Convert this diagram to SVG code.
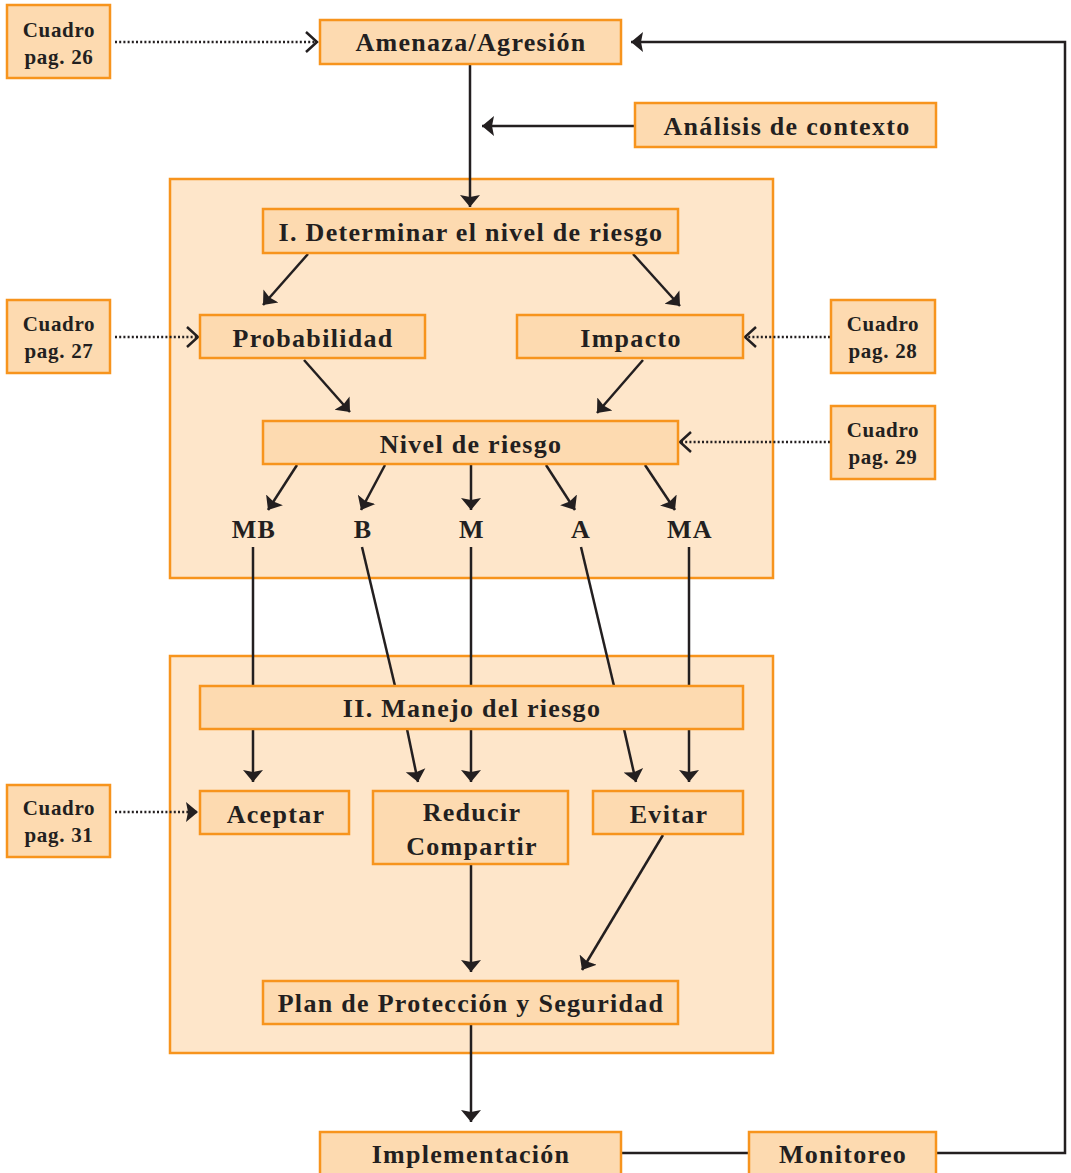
<svg xmlns="http://www.w3.org/2000/svg" width="1071" height="1173" viewBox="0 0 1071 1173">
<style>
.panel{fill:#FEE6CA;stroke:#F7941D;stroke-width:2.5}
.box{fill:#FDDAB0;stroke:#F7941D;stroke-width:2.5}
.t{font-family:"Liberation Serif","Times New Roman",serif;font-weight:bold;font-size:26px;letter-spacing:1.3px;fill:#231F20;text-anchor:middle}
.s{font-size:21px;letter-spacing:0.7px}
.ln{fill:none;stroke:#231F20;stroke-width:2.5}
.dot{fill:none;stroke:#231F20;stroke-width:2.5;stroke-dasharray:2 2.2}
</style>
<defs>
<marker id="ah" markerUnits="userSpaceOnUse" markerWidth="14" markerHeight="22" viewBox="0 0 14 22" refX="12" refY="11" orient="auto">
<path d="M0,1 L12,11 L0,21 L2,11 Z" fill="#231F20"/>
</marker>
<marker id="oh" markerUnits="userSpaceOnUse" markerWidth="16" markerHeight="24" viewBox="0 0 16 24" refX="13" refY="12" orient="auto">
<path d="M2,2 L13,12 L2,22" fill="none" stroke="#231F20" stroke-width="2.5"/>
</marker>
</defs>
<rect class="panel" x="170" y="179" width="603" height="399"/>
<rect class="panel" x="170" y="656" width="603" height="397"/>
<g id="connectors">
<path class="dot" d="M115,42 H317" marker-end="url(#oh)"/>
<path class="dot" d="M115,337 H198" marker-end="url(#oh)"/>
<path class="dot" d="M830,337 H745" marker-end="url(#oh)"/>
<path class="dot" d="M830,442 H680" marker-end="url(#oh)"/>
<path class="dot" d="M115,812 H198" marker-end="url(#ah)"/>
<path class="ln" d="M635,126 H482" marker-end="url(#ah)"/>
<path class="ln" d="M470,64 V207" marker-end="url(#ah)"/>
<path class="ln" d="M308,254 L263,305" marker-end="url(#ah)"/>
<path class="ln" d="M633,254 L680,306" marker-end="url(#ah)"/>
<path class="ln" d="M304,360 L350,412" marker-end="url(#ah)"/>
<path class="ln" d="M643,360 L597,413" marker-end="url(#ah)"/>
<path class="ln" d="M297,465 L268,510" marker-end="url(#ah)"/>
<path class="ln" d="M385,465 L361,510" marker-end="url(#ah)"/>
<path class="ln" d="M471,465 V510" marker-end="url(#ah)"/>
<path class="ln" d="M546,465 L575,510" marker-end="url(#ah)"/>
<path class="ln" d="M645,465 L675,510" marker-end="url(#ah)"/>
<path class="ln" d="M253,547 V686"/>
<path class="ln" d="M253,729 V782" marker-end="url(#ah)"/>
<path class="ln" d="M362,547 L395,686"/>
<path class="ln" d="M407,729 L418,782" marker-end="url(#ah)"/>
<path class="ln" d="M471,547 V686"/>
<path class="ln" d="M471,729 V782" marker-end="url(#ah)"/>
<path class="ln" d="M581,547 L614,686"/>
<path class="ln" d="M624,729 L636,782" marker-end="url(#ah)"/>
<path class="ln" d="M689,547 V686"/>
<path class="ln" d="M689,729 V782" marker-end="url(#ah)"/>
<path class="ln" d="M471,864 V972" marker-end="url(#ah)"/>
<path class="ln" d="M663,835 L582,970" marker-end="url(#ah)"/>
<path class="ln" d="M471,1024 V1122" marker-end="url(#ah)"/>
<path class="ln" d="M621,1153 H749"/>
<path class="ln" d="M936,1153 H1065 V42 H631" marker-end="url(#ah)"/>
</g>
<g id="cuadro26"><rect class="box" x="7" y="5" width="103" height="73"/><text class="t s" x="59" y="37">Cuadro</text><text class="t s" x="59" y="64">pag. 26</text></g>
<g id="cuadro27"><rect class="box" x="7" y="300" width="103" height="73"/><text class="t s" x="59" y="331">Cuadro</text><text class="t s" x="59" y="358">pag. 27</text></g>
<g id="cuadro28"><rect class="box" x="831" y="300" width="104" height="73"/><text class="t s" x="883" y="331">Cuadro</text><text class="t s" x="883" y="358">pag. 28</text></g>
<g id="cuadro29"><rect class="box" x="831" y="406" width="104" height="73"/><text class="t s" x="883" y="437">Cuadro</text><text class="t s" x="883" y="464">pag. 29</text></g>
<g id="cuadro31"><rect class="box" x="7" y="785" width="103" height="72"/><text class="t s" x="59" y="815">Cuadro</text><text class="t s" x="59" y="842">pag. 31</text></g>
<g id="amenaza"><rect class="box" x="320" y="20" width="301" height="44"/><text class="t" x="471" y="51">Amenaza/Agresión</text></g>
<g id="analisis"><rect class="box" x="635" y="103" width="301" height="44"/><text class="t" x="787" y="135">Análisis de contexto</text></g>
<g id="determinar"><rect class="box" x="263" y="209" width="415" height="44"/><text class="t" x="471" y="241">I. Determinar el nivel de riesgo</text></g>
<g id="probabilidad"><rect class="box" x="200" y="315" width="225" height="43"/><text class="t" x="313" y="347">Probabilidad</text></g>
<g id="impacto"><rect class="box" x="517" y="315" width="226" height="43"/><text class="t" x="631" y="347">Impacto</text></g>
<g id="nivel"><rect class="box" x="263" y="421" width="415" height="43"/><text class="t" x="471" y="453">Nivel de riesgo</text></g>
<g id="mb"><text class="t" x="254" y="538">MB</text></g>
<g id="b"><text class="t" x="363" y="538">B</text></g>
<g id="m"><text class="t" x="472" y="538">M</text></g>
<g id="a"><text class="t" x="581" y="538">A</text></g>
<g id="ma"><text class="t" x="690" y="538">MA</text></g>
<g id="manejo"><rect class="box" x="200" y="686" width="543" height="43"/><text class="t" x="472" y="717">II. Manejo del riesgo</text></g>
<g id="aceptar"><rect class="box" x="200" y="791" width="149" height="43"/><text class="t" x="276" y="823">Aceptar</text></g>
<g id="reducir"><rect class="box" x="373" y="791" width="195" height="73"/><text class="t" x="472" y="821">Reducir</text><text class="t" x="472" y="855">Compartir</text></g>
<g id="evitar"><rect class="box" x="593" y="791" width="150" height="43"/><text class="t" x="669" y="823">Evitar</text></g>
<g id="plan"><rect class="box" x="263" y="981" width="415" height="43"/><text class="t" x="471" y="1012">Plan de Protección y Seguridad</text></g>
<g id="implementacion"><rect class="box" x="320" y="1132" width="301" height="50"/><text class="t" x="471" y="1163">Implementación</text></g>
<g id="monitoreo"><rect class="box" x="749" y="1132" width="187" height="50"/><text class="t" x="843" y="1163">Monitoreo</text></g>
</svg>
